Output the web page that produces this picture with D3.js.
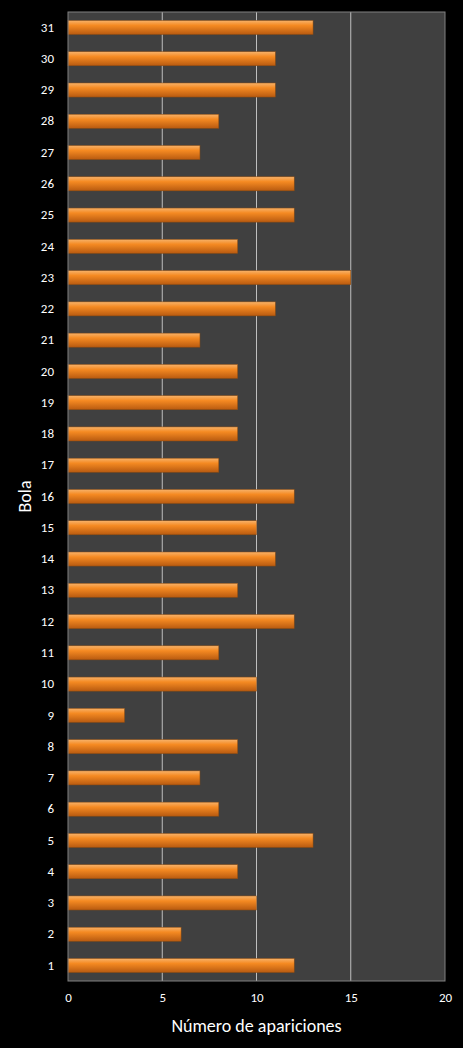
<!DOCTYPE html>
<html><head><meta charset="utf-8">
<script src="https://cdn.jsdelivr.net/npm/d3@7/dist/d3.min.js"></script>
<style>body{margin:0;background:#000}</style></head>
<body><div id="chart"></div>
<script>
// Bola 1..31
var bolas = d3.range(1, 32).map(String);
var apariciones = [12, 6, 10, 9, 13, 8, 7, 9, 3, 10, 8, 12, 9, 11, 10, 12, 8, 9, 9, 9, 7, 11, 15, 9, 12, 12, 7, 8, 11, 11, 13];
var xTicks = [0, 5, 10, 15, 20];

var width = 463, height = 1048;
var margin = { top: 12, right: 18, bottom: 67, left: 68 };
var iw = width - margin.left - margin.right;
var ih = height - margin.top - margin.bottom;

var svg = d3.select('#chart').append('svg')
    .attr('width', width).attr('height', height)
    .style('background', '#000')
    .style('font-family', 'Calibri, Carlito, "Open Sans", sans-serif');

var grad = svg.append('defs').append('linearGradient')
    .attr('id', 'barGrad').attr('x1', 0).attr('y1', 0).attr('x2', 0).attr('y2', 1);
grad.append('stop').attr('offset', '0%').attr('stop-color', '#f7b26a');
grad.append('stop').attr('offset', '35%').attr('stop-color', '#f58a22');
grad.append('stop').attr('offset', '100%').attr('stop-color', '#b85a10');

var g = svg.append('g').attr('transform', 'translate(' + margin.left + ',' + margin.top + ')');

var x = d3.scaleLinear().domain([0, 20]).range([0, iw]);
var y = d3.scaleBand().domain(bolas.slice().reverse()).range([0, ih]).paddingInner(0.55).paddingOuter(0.27);

g.append('rect').attr('width', iw).attr('height', ih).attr('fill', '#404040');

g.selectAll('line.grid').data(xTicks.slice(1, -1)).enter().append('line')
    .attr('x1', x).attr('x2', x).attr('y1', 0).attr('y2', ih)
    .attr('stroke', '#bfbfbf').attr('stroke-width', 1);

g.selectAll('rect.bar').data(bolas).enter().append('rect')
    .attr('x', 0).attr('y', function (d) { return y(d); })
    .attr('width', function (d, i) { return x(apariciones[i]); })
    .attr('height', y.bandwidth())
    .attr('fill', 'url(#barGrad)')
    .attr('stroke', '#8a4a10').attr('stroke-width', 0.5);

g.append('rect').attr('width', iw).attr('height', ih)
    .attr('fill', 'none').attr('stroke', '#808080');

var xa = g.append('g').attr('transform', 'translate(0,' + ih + ')')
    .call(d3.axisBottom(x).tickValues(xTicks).tickSize(0).tickPadding(12));
var ya = g.append('g').call(d3.axisLeft(y).tickSize(0).tickPadding(14));
[xa, ya].forEach(function (a) {
    a.select('.domain').remove();
    a.selectAll('text').attr('fill', '#fff').style('font-size', '13px')
        .style('font-family', 'Calibri, Carlito, "Open Sans", sans-serif');
});

svg.append('text').attr('x', margin.left + iw / 2).attr('y', 1032)
    .attr('text-anchor', 'middle').attr('fill', '#fff').style('font-size', '18px')
    .text('Número de apariciones');
svg.append('text').attr('transform', 'translate(31,' + (margin.top + ih / 2) + ') rotate(-90)')
    .attr('text-anchor', 'middle').attr('fill', '#fff').style('font-size', '18px')
    .text('Bola');
</script></body></html>
